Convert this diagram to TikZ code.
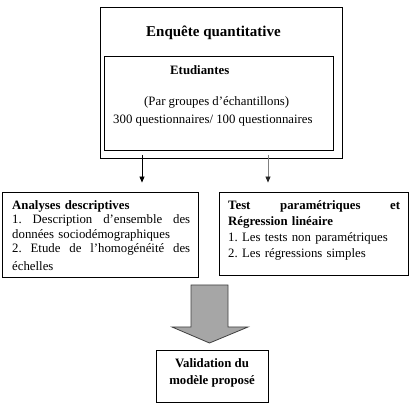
\documentclass[tikz,border=0pt]{standalone}
\usepackage{fontspec}
\setmainfont{Liberation Serif}
\usetikzlibrary{arrows.meta}
\frenchspacing

\begin{document}
\begin{tikzpicture}[x=1pt,y=1pt,
    box/.style={draw,line width=0.9pt,inner sep=0pt},
    txt/.style={inner sep=0pt,font=\fontsize{12.8}{14.5}\selectfont},
    arr/.style={-{Triangle[length=6pt,width=5pt]},line width=0.8pt,shorten >=9pt}]
  \useasboundingbox (0,0) rectangle (413,-406);
  % boxes
  \node[box,minimum width=242,minimum height=151] (enq) at (221,-82.5) {};
  \node[box,minimum width=229,minimum height=94] (etu) at (218.5,-103) {};
  \node[box,minimum width=196,minimum height=85] (anal) at (100,-234.5) {};
  \node[box,minimum width=189,minimum height=83] (test) at (313.5,-233.5) {};
  \node[box,minimum width=112,minimum height=52] (valid) at (212,-376) {};
  % texts
  \node[txt,anchor=base west,font=\fontsize{15}{17}\selectfont] (enqt) at (146,-37) {\textbf{Enquête quantitative}};
  \node[txt,anchor=base west] (etut) at (170,-74.5) {\textbf{Etudiantes}};
  \node[txt,anchor=base west] (grp) at (144,-106) {(Par groupes d’échantillons)};
  \node[txt,anchor=base west] (quest) at (113,-123.5) {300 questionnaires/ 100 questionnaires};
  \node[txt,anchor=base west,text width=178pt,align=left] (analt) at (12,-209.5)
    {\textbf{Analyses descriptives}\\
     \makebox[178pt][s]{1.\hfill Description\hfill d’ensemble\hfill des}\\
     données sociodémographiques\\
     \makebox[178pt][s]{2.\hfill Etude\hfill de\hfill l’homogénéité\hfill des}\\[3pt]
     échelles};
  \node[txt,anchor=base west,text width=172pt,align=left,
        font=\fontsize{12.8}{16}\selectfont] (testt) at (228,-209.5)
    {\makebox[172pt][s]{\textbf{Test\hfill paramétriques\hfill et}}\\
     \textbf{Régression linéaire}\\
     1. Les tests non paramétriques\\
     2. Les régressions simples};
  \node[txt,align=center,font=\fontsize{12.8}{17}\selectfont] (validt) at (212,-372.5)
    {\textbf{Validation du}\\\textbf{modèle proposé}};
  % arrows
  \coordinate (a1) at (142,-155);
  \coordinate (a2) at (268,-155);
  \draw[arr] (a1) -- (a1 |- anal.north);
  \draw[arr,draw=black!50,-{Triangle[length=6pt,width=5pt,color=black!85]}] (a2) -- (a2 |- test.north);
  \draw[draw=black!75,fill=gray!70,line width=0.8pt]
    (191,-285) -- (228,-285) -- (228,-327) -- (248,-327) -- (209.5,-343)
    -- (172,-327) -- (191,-327) -- cycle;
\end{tikzpicture}
\end{document}
